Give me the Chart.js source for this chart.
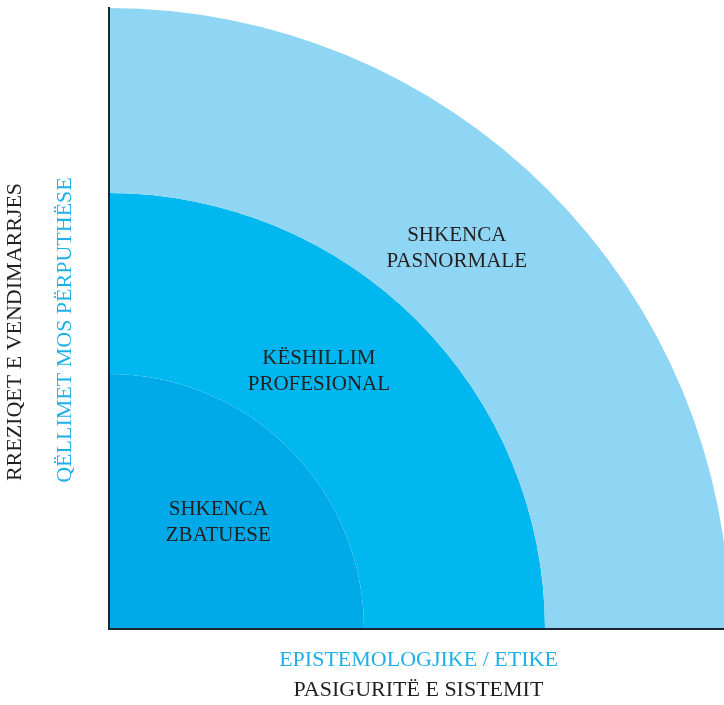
<!DOCTYPE html>
<html>
<head>
<meta charset="utf-8">
<script src="https://cdn.jsdelivr.net/npm/chart.js@4.4.0/dist/chart.umd.min.js"></script>
<style>
    html, body { margin: 0; padding: 0; background: #fff; overflow: hidden; }
    #wrap { width: 740px; height: 705px; }
</style>
</head>
<body>
<div id="wrap"><canvas id="chart" width="740" height="705"></canvas></div>
<script>
// Rings, from the corner outwards
const categories = [['SHKENCA', 'ZBATUESE'], ['KËSHILLIM', 'PROFESIONAL'], ['SHKENCA', 'PASNORMALE']];
// Outer edge of each ring, measured from the corner
const ringExtent = [255, 436, 621];
const ringColors = ['#00a9e8', '#00b8ef', '#8fd6f5'];

// Axis titles (first one sits next to the axis)
const xTitles = ['EPISTEMOLOGJIKE / ETIKE', 'PASIGURITË E SISTEMIT'];
const yTitles = ['QËLLIMET MOS PËRPUTHËSE', 'RREZIQET E VENDIMARRJES'];
const titleColors = ['#1eb0ea', '#231f20'];

const serif = '"Liberation Serif", "Times New Roman", serif';

// Pie draws its first dataset as the outermost ring
const datasets = [];
for (let i = categories.length - 1; i >= 0; i--) {
    datasets.push({
        label: categories[i].join(' '),
        data: [1],
        backgroundColor: ringColors[i],
        weight: ringExtent[i] - (i > 0 ? ringExtent[i - 1] : 0),
        borderWidth: 0,
        hoverOffset: 0
    });
}

// Where each ring's label sits, as a share of the outer radius from the corner
const labelSpots = [[0.176, 0.172], [0.338, 0.414], [0.560, 0.613]];

const textPlugin = {
    id: 'quadrantText',
    afterDraw(chart) {
        const ctx = chart.ctx;
        const area = chart.chartArea;
        const outer = chart.getDatasetMeta(0).data[0];
        const cx = outer.x, cy = outer.y, r = outer.outerRadius;

        ctx.save();
        ctx.textAlign = 'center';
        ctx.textBaseline = 'middle';

        // ring labels
        ctx.fillStyle = '#231f20';
        ctx.font = '21px ' + serif;
        categories.forEach((lines, i) => {
            const x = cx + labelSpots[i][0] * r;
            const y = cy - labelSpots[i][1] * r;
            lines.forEach((line, j) => {
                ctx.fillText(line, x, y + (j - (lines.length - 1) / 2) * 26);
            });
        });

        // axis titles
        ctx.font = '22px ' + serif;
        const midX = (area.left + area.right) / 2 - 1;
        xTitles.forEach((t, i) => {
            ctx.fillStyle = titleColors[i];
            ctx.fillText(t, midX, area.bottom + 31 + i * 30.5);
        });
        const midY = area.top + 322;
        yTitles.forEach((t, i) => {
            ctx.save();
            ctx.fillStyle = titleColors[i];
            ctx.translate(area.left - 44 - i * 50, midY + (i ? 2 : 0));
            ctx.rotate(-Math.PI / 2);
            ctx.fillText(t, 0, 0);
            ctx.restore();
        });
        ctx.restore();
    }
};

const hiddenAxis = (position) => ({
    type: 'linear',
    position: position,
    display: true,
    grid: { display: false, drawTicks: false },
    ticks: { display: false },
    border: { display: true, color: '#1c2630', width: 2, z: 1 }
});

new Chart(document.getElementById('chart'), {
    type: 'pie',
    data: { labels: ['area'], datasets: datasets },
    options: {
        responsive: false,
        animation: false,
        rotation: 0,
        circumference: 90,
        layout: { padding: { left: 109, top: 8, right: 10, bottom: 76 } },
        scales: {
            x: hiddenAxis('bottom'),
            y: hiddenAxis('left')
        },
        plugins: {
            legend: { display: false },
            tooltip: { enabled: false }
        }
    },
    plugins: [textPlugin]
});
</script>
</body>
</html>
